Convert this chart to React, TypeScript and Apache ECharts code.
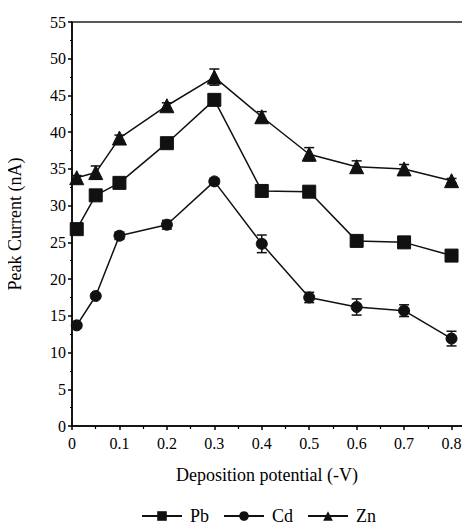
import React, { useEffect, useRef } from "react";
import * as echarts from "echarts";

const potentials = [0.01, 0.05, 0.1, 0.2, 0.3, 0.4, 0.5, 0.6, 0.7, 0.8];
const pbValues = [26.8, 31.4, 33.1, 38.5, 44.4, 32.0, 31.9, 25.2, 25.0, 23.2];
const pbErrors = [0.3, 0.3, 0.3, 0.3, 0.4, 0.3, 0.3, 0.3, 0.3, 0.3];
const cdValues = [13.7, 17.7, 25.9, 27.4, 33.3, 24.8, 17.5, 16.2, 15.7, 11.9];
const cdErrors = [0.3, 0.3, 0.5, 0.6, 0.4, 1.2, 0.7, 1.1, 0.8, 1.0];
const znValues = [33.8, 34.5, 39.2, 43.6, 47.5, 42.1, 37.0, 35.3, 35.0, 33.4];
const znErrors = [0.3, 0.9, 0.4, 0.4, 1.1, 0.7, 0.9, 0.8, 0.6, 0.3];
const seriesNames = ["Pb", "Cd", "Zn"];

const FONT = "Times New Roman";

function errorSeries(vals: number[], errs: number[]) {
  return {
    type: "custom",
    silent: true,
    z: 1,
    data: potentials.map((x, i) => [x, vals[i], errs[i]]),
    renderItem: (params: any, api: any) => {
      const x = api.value(0);
      const y = api.value(1);
      const e = api.value(2);
      const top = api.coord([x, y + e]);
      const bot = api.coord([x, y - e]);
      const w = 5;
      const style = { stroke: "#111", lineWidth: 1.5 };
      return {
        type: "group",
        children: [
          { type: "line", shape: { x1: top[0], y1: top[1], x2: bot[0], y2: bot[1] }, style },
          { type: "line", shape: { x1: top[0] - w, y1: top[1], x2: top[0] + w, y2: top[1] }, style },
          { type: "line", shape: { x1: bot[0] - w, y1: bot[1], x2: bot[0] + w, y2: bot[1] }, style },
        ],
      };
    },
  };
}

function lineSeries(name: string, vals: number[], symbol: string, size: number) {
  return {
    name,
    type: "line",
    z: 2,
    symbol,
    symbolSize: size,
    showAllSymbol: true,
    data: potentials.map((x, i) => [x, vals[i]]),
    lineStyle: { color: "#111", width: 1.5 },
    itemStyle: { color: "#111", borderColor: "#111" },
  };
}

export default function App() {
  const ref = useRef<HTMLDivElement>(null);
  useEffect(() => {
    if (!ref.current) return;
    const chart = echarts.init(ref.current, undefined, { renderer: "svg" });
    chart.setOption({
      animation: false,
      textStyle: { fontFamily: FONT, color: "#000" },
      grid: {
        left: 72,
        top: 22,
        right: -10,
        bottom: 104,
        outerBoundsMode: "none",
        show: true,
        borderColor: "#222",
        borderWidth: 1.5,
      },
      legend: {
        data: seriesNames,
        bottom: 0,
        left: 136,
        itemWidth: 40,
        itemHeight: 12,
        itemGap: 14,
        textStyle: { fontFamily: FONT, fontSize: 18, color: "#000", padding: [0, 0, 0, 3] },
      },
      xAxis: {
        type: "value",
        min: 0,
        max: 0.86,
        interval: 0.1,
        name: "Deposition potential (-V)",
        nameLocation: "middle",
        nameGap: 40,
        nameTextStyle: { fontFamily: FONT, fontSize: 18, color: "#000", padding: [0, 18, 0, 0] },
        axisLine: { show: true, lineStyle: { color: "#000", width: 1.5 } },
        axisTick: { show: true, length: 4, lineStyle: { color: "#000", width: 1.5 } },
        minorTick: { show: true, splitNumber: 2, length: 3, lineStyle: { color: "#000", width: 1.2 } },
        axisLabel: {
          fontFamily: FONT,
          fontSize: 16,
          color: "#000",
          margin: 9,
          showMaxLabel: false,
        },
        splitLine: { show: false },
      },
      yAxis: {
        type: "value",
        min: 0,
        max: 55,
        interval: 5,
        name: "Peak Current (nA)",
        nameLocation: "middle",
        nameGap: 48,
        nameTextStyle: { fontFamily: FONT, fontSize: 18, color: "#000" },
        axisLine: { show: true, lineStyle: { color: "#000", width: 1.5 } },
        axisTick: { show: true, length: 4, lineStyle: { color: "#000", width: 1.5 } },
        minorTick: { show: true, splitNumber: 2, length: 2, lineStyle: { color: "#000", width: 1.2 } },
        axisLabel: { fontFamily: FONT, fontSize: 16, color: "#000", margin: 6 },
        splitLine: { show: false },
      },
      series: [
        errorSeries(pbValues, pbErrors),
        errorSeries(cdValues, cdErrors),
        errorSeries(znValues, znErrors),
        lineSeries("Pb", pbValues, "rect", 13),
        lineSeries("Cd", cdValues, "circle", 11),
        lineSeries("Zn", znValues, "triangle", 14),
      ],
    });
    return () => chart.dispose();
  }, []);
  return <div ref={ref} style={{ width: 470, height: 530, margin: -8 }} />;
}
